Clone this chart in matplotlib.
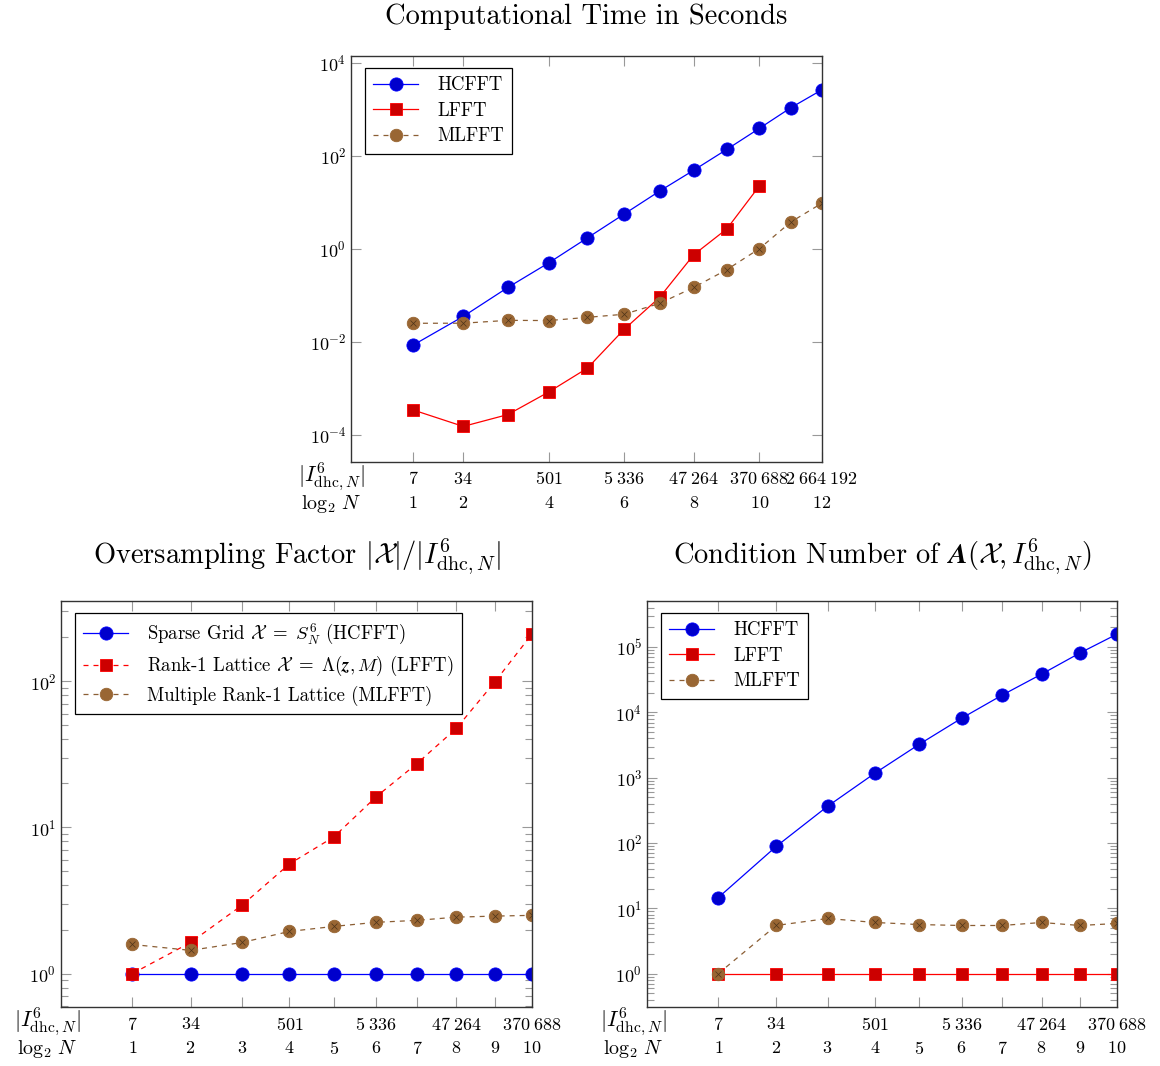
import matplotlib
matplotlib.use('Agg')
import matplotlib.pyplot as plt
import matplotlib.ticker as mticker
import matplotlib.transforms as mtransforms

plt.rcParams['font.family'] = 'serif'
plt.rcParams['font.serif'] = ['cmr10']
plt.rcParams['mathtext.fontset'] = 'cm'
plt.rcParams['axes.unicode_minus'] = False
plt.rcParams['axes.formatter.use_mathtext'] = True

# log2 N and size of the dyadic hyperbolic cross |I^6_dhc,N|
log2N = [1, 2, 3, 4, 5, 6, 7, 8, 9, 10, 11, 12]
sizes = [7, 34, 138, 501, 1683, 5336, 16172, 47264, 134048, 370688, 1003136, 2664192]
size_labels = {7: '7', 34: '34', 501: '501', 5336: r'5\;336', 47264: r'47\;264',
               370688: r'370\;688', 2664192: r'2\;664\;192'}

# computational time in seconds
time_hcfft = [8.4e-3, 0.035, 0.147, 0.50, 1.72, 5.6, 17.4, 49, 138, 389, 1090, 2650]
time_lfft = [3.4e-4, 1.5e-4, 2.7e-4, 8.3e-4, 2.7e-3, 0.0185, 0.0895, 0.74, 2.68, 22.3]
time_mlfft = [0.0249, 0.025, 0.0288, 0.0285, 0.0334, 0.039, 0.0666, 0.147, 0.355, 1.0, 3.78, 9.6]

# oversampling factor
over_sg = [1, 1, 1, 1, 1, 1, 1, 1, 1, 1]
over_lfft = [1.0, 1.63, 2.93, 5.61, 8.6, 16.2, 27.3, 47.5, 98.4, 210]
over_mlfft = [1.58, 1.44, 1.63, 1.94, 2.10, 2.24, 2.31, 2.43, 2.47, 2.50]

# condition number
cond_hcfft = [14.6, 88.7, 365, 1170, 3250, 8130, 18400, 38500, 81000, 158000]
cond_lfft = [1, 1, 1, 1, 1, 1, 1, 1, 1, 1]
cond_mlfft = [1.0, 5.45, 6.98, 6.06, 5.63, 5.45, 5.45, 6.06, 5.45, 5.85]

BLUE = '#0000ff'
BLUE_F = '#0000cc'
RED = '#ff0000'
RED_F = '#cc0000'
BROWN = '#8b5e34'
BROWN_F = '#996633'

TICK_FS = 13
LEG_FS = 13.5
TITLE_FS = 20.5

W, H = 1160, 1066
fig = plt.figure(figsize=(W / 100, H / 100), dpi=100)


def px_axes(l, t, r, b):
    return fig.add_axes([l / W, 1 - b / H, (r - l) / W, (b - t) / H])


def plot_hc(ax, x, y):
    return ax.plot(x, y, color=BLUE, lw=0.9, marker='o', ms=9.5,
                   mfc=BLUE_F, mec=BLUE, mew=0.6)[0]


def plot_lf(ax, x, y, dashed=False):
    kw = dict(color=RED, lw=0.9, marker='s', ms=9, mfc=RED_F, mec=RED, mew=0.6)
    if dashed:
        kw['dashes'] = (4, 4)
    return ax.plot(x, y, **kw)[0]


def plot_ml(ax, x, y):
    line = ax.plot(x, y, color=BROWN, lw=0.9, dashes=(4, 4), marker='o', ms=9,
                   mfc=BROWN_F, mec=BROWN_F, mew=0.6)[0]
    ax.plot(x, y, ls='none', marker='x', ms=5, mec='#4d3319', mew=0.5)
    return line


def style(ax):
    for s in ax.spines.values():
        s.set_color('#333333')
        s.set_linewidth(1.0)
    ax.tick_params(which='both', direction='in', top=True, right=True,
                   color='#999999', labelsize=TICK_FS)
    ax.tick_params(which='major', length=7, width=0.8)
    ax.tick_params(which='minor', length=5, width=0.8)
    ax.tick_params(axis='x', labelbottom=False)


def xrows(ax, xs, top_labels, bot_labels, lab_x):
    tr = mtransforms.blended_transform_factory(ax.transData, ax.transAxes)
    tr1 = mtransforms.offset_copy(tr, fig, 0, -17, units='dots')
    tr2 = mtransforms.offset_copy(tr, fig, 0, -41, units='dots')
    for x, t in zip(xs, top_labels):
        if t:
            ax.text(x, 0, '$' + t + '$', transform=tr1, ha='center', va='center', fontsize=TICK_FS)
    for x, t in zip(xs, bot_labels):
        ax.text(x, 0, '$' + t + '$', transform=tr2, ha='center', va='center', fontsize=TICK_FS)
    tra = mtransforms.offset_copy(ax.transAxes, fig, 0, -15, units='dots')
    ax.text(lab_x, 0, r'$|I^6_{\mathrm{dhc},N}|$', transform=tra, ha='center', va='center', fontsize=16)
    tra = mtransforms.offset_copy(ax.transAxes, fig, 0, -42, units='dots')
    ax.text(lab_x, 0, r'$\log_2\,N$', transform=tra, ha='center', va='center', fontsize=14.5)


def legend(ax, handles, labels, dx, dy, w_ax, h_ax):
    leg = ax.legend(handles, labels, loc='upper left',
                    bbox_to_anchor=(dx / w_ax, 1 - dy / h_ax), borderaxespad=0,
                    fancybox=False, framealpha=1, edgecolor='black',
                    handlelength=2.4, labelspacing=0.4, fontsize=LEG_FS,
                    borderpad=0.45, handletextpad=1.0)
    leg.get_frame().set_linewidth(0.9)
    return leg


# ---------- top: computational time ----------
ax1 = px_axes(351, 56, 822, 462)
h1 = plot_hc(ax1, sizes, time_hcfft)
h2 = plot_lf(ax1, sizes[:len(time_lfft)], time_lfft)
h3 = plot_ml(ax1, sizes, time_mlfft)
ax1.set_xscale('log')
ax1.set_yscale('log')
ax1.set_xlim(1, 2664192)
ax1.set_ylim(10 ** -4.59, 10 ** 4.15)
ax1.yaxis.set_major_locator(mticker.LogLocator(base=100))
ax1.yaxis.set_minor_locator(mticker.NullLocator())
tick_pos = [1, 2, 4, 6, 8, 10, 12]
xt = [sizes[n - 1] for n in tick_pos]
ax1.xaxis.set_major_locator(mticker.FixedLocator(xt))
ax1.xaxis.set_minor_locator(mticker.NullLocator())
style(ax1)
xrows(ax1, xt, [size_labels[s] for s in xt], [str(n) for n in tick_pos], -0.042)
legend(ax1, [h1, h2, h3], ['HCFFT', 'LFFT', 'MLFFT'], 14, 12, 471, 406)
ax1.set_title('Computational Time in Seconds', fontsize=TITLE_FS, pad=23)

# ---------- bottom left: oversampling ----------
n10 = log2N[:10]
s10 = sizes[:10]
lab_idx = [1, 2, 4, 6, 8, 10]
top_lab = [size_labels[s] if n in lab_idx else '' for n, s in zip(n10, s10)]

ax2 = px_axes(61, 601, 532, 1007)
g1 = plot_hc(ax2, s10, over_sg)
g2 = plot_lf(ax2, s10, over_lfft, dashed=True)
g3 = plot_ml(ax2, s10, over_mlfft)
ax2.set_xscale('log')
ax2.set_yscale('log')
ax2.set_xlim(1, 370688)
ax2.set_ylim(10 ** -0.229, 10 ** 2.548)
ax2.xaxis.set_major_locator(mticker.FixedLocator(s10))
ax2.xaxis.set_minor_locator(mticker.NullLocator())
ax2.yaxis.set_minor_locator(mticker.LogLocator(base=10, subs=range(2, 10)))
ax2.yaxis.set_minor_formatter(mticker.NullFormatter())
style(ax2)
xrows(ax2, s10, top_lab, [str(n) for n in n10], -0.03)
legend(ax2, [g1, g2, g3],
       [r'Sparse Grid $\mathcal{X}\ =\ S_N^6$ (HCFFT)',
        r'Rank-1 Lattice $\mathcal{X}\ =\ \Lambda(\boldsymbol{z},M)$ (LFFT)',
        'Multiple Rank-1 Lattice (MLFFT)'], 14, 12, 471, 406)
ax2.set_title(r'Oversampling Factor $|\mathcal{X}|/|I^6_{\mathrm{dhc},N}|$', fontsize=TITLE_FS, pad=27)

# ---------- bottom right: condition number ----------
ax3 = px_axes(647, 601, 1117, 1007)
k1 = plot_hc(ax3, s10, cond_hcfft)
k2 = plot_lf(ax3, s10, cond_lfft)
k3 = plot_ml(ax3, s10, cond_mlfft)
ax3.set_xscale('log')
ax3.set_yscale('log')
ax3.set_xlim(1, 370688)
ax3.set_ylim(10 ** -0.512, 10 ** 5.706)
ax3.xaxis.set_major_locator(mticker.FixedLocator(s10))
ax3.xaxis.set_minor_locator(mticker.NullLocator())
ax3.yaxis.set_major_locator(mticker.LogLocator(base=10, numticks=20))
ax3.yaxis.set_minor_locator(mticker.LogLocator(base=10, subs=range(2, 10), numticks=20))
ax3.yaxis.set_minor_formatter(mticker.NullFormatter())
style(ax3)
xrows(ax3, s10, top_lab, [str(n) for n in n10], -0.03)
legend(ax3, [k1, k2, k3], ['HCFFT', 'LFFT', 'MLFFT'], 14, 12, 470, 406)
ax3.set_title(r'Condition Number of $\boldsymbol{A}(\mathcal{X},I^6_{\mathrm{dhc},N})$', fontsize=TITLE_FS, pad=27)

fig.savefig('out.png', dpi=100)
